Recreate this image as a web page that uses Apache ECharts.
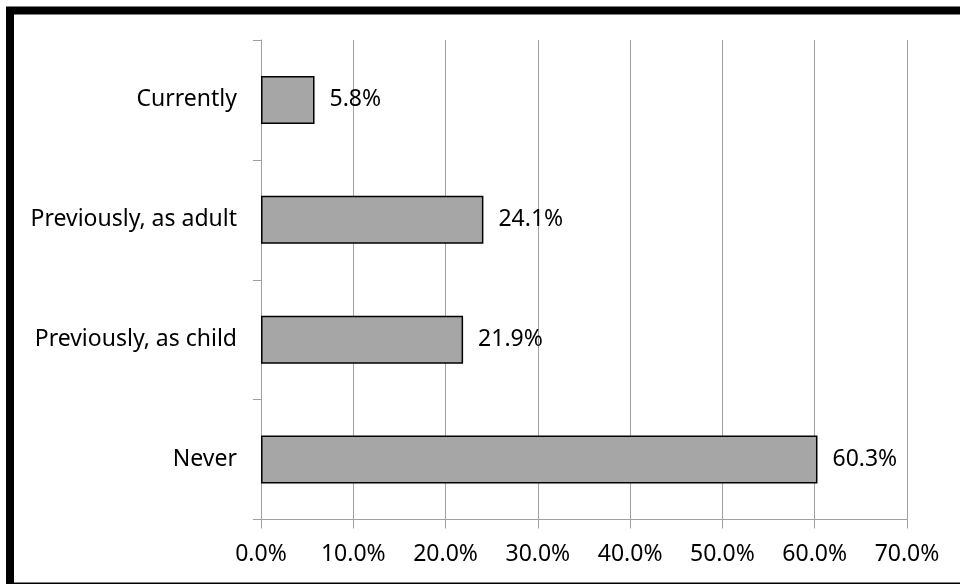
<!DOCTYPE html>
<html>
<head>
<meta charset="utf-8">
<script src="https://cdn.jsdelivr.net/npm/echarts@6/dist/echarts.min.js"></script>
<style>html,body{margin:0;padding:0;background:#fff}#c{width:960px;height:584px}</style>
</head>
<body>
<div id="c"></div>
<script>
const categories = ['Currently', 'Previously, as adult', 'Previously, as child', 'Never'];
const values = [5.8, 24.1, 21.9, 60.3];
const xTicks = { min: 0, max: 70, interval: 10 };

const chart = echarts.init(document.getElementById('c'), null, { renderer: 'canvas' });
const font = 'Noto Sans';
chart.setOption({
  animation: false,
  backgroundColor: '#fff',
  grid: { left: 261, right: 53, top: 40, bottom: 64.5, containLabel: false },
  xAxis: {
    type: 'value', min: xTicks.min, max: xTicks.max, interval: xTicks.interval,
    axisLine: { show: true, lineStyle: { color: '#a0a0a0', width: 1 } },
    axisTick: { show: true, length: 9, lineStyle: { color: '#a0a0a0' } },
    splitLine: { show: true, lineStyle: { color: '#a0a0a0', width: 1 } },
    axisLabel: { color: '#000', fontFamily: font, fontSize: 23, margin: 23,
      formatter: v => v.toFixed(1) + '%' }
  },
  yAxis: {
    type: 'category', data: categories, inverse: true,
    axisLine: { show: true, lineStyle: { color: '#a0a0a0', width: 1 } },
    axisTick: { show: true, length: 8, lineStyle: { color: '#a0a0a0' } },
    axisLabel: { color: '#000', fontFamily: font, fontSize: 23, margin: 24 }
  },
  series: [{
    type: 'bar', data: values, barWidth: 48,
    itemStyle: { color: '#a6a6a6', borderColor: '#000', borderWidth: 1.5 },
    label: { show: true, position: 'right', distance: 15, color: '#000',
      fontFamily: font, fontSize: 23, formatter: p => p.value.toFixed(1) + '%' }
  }],
  graphic: [{
    type: 'rect', silent: true, z: 100,
    shape: { x: 10, y: 10.5, width: 1000, height: 576 },
    style: { fill: 'none', stroke: '#000', lineWidth: 8 }
  }]
});
</script>
</body>
</html>
